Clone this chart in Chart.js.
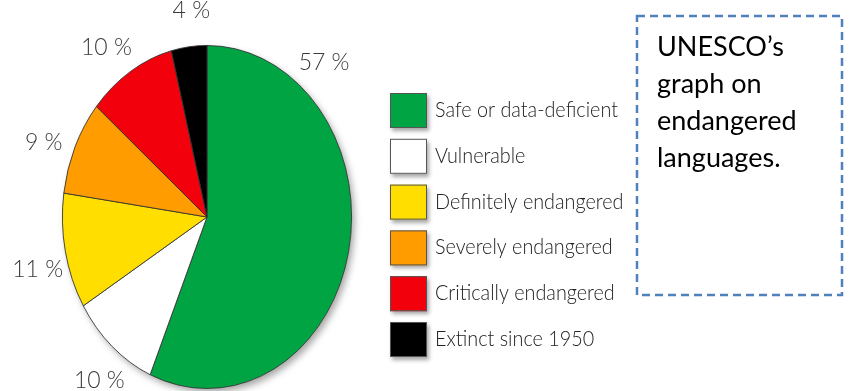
<!DOCTYPE html>
<html>
<head>
<meta charset="utf-8">
<script src="https://cdn.jsdelivr.net/npm/chart.js@4.4.0/dist/chart.umd.min.js"></script>
<style>
    html, body { margin: 0; padding: 0; background: #fff; }
    #wrap { position: relative; width: 850px; height: 391px; overflow: hidden; }
    #note {
        position: absolute; left: 657px; top: 27px;
        font-family: Lato, "Open Sans", sans-serif; font-size: 27px; line-height: 37px;
        color: #000;
    }
</style>
</head>
<body>
<div id="wrap">
    <canvas id="langChart" width="850" height="391"></canvas>
    <div id="note">UNESCO’s<br>graph on<br>endangered<br>languages.</div>
</div>
<script>
const categories = ['Safe or data-deficient', 'Vulnerable', 'Definitely endangered',
    'Severely endangered', 'Critically endangered', 'Extinct since 1950'];
const shares = [57, 10, 11, 9, 10, 4];
const shareLabels = ['57 %', '10 %', '11 %', '9 %', '10 %', '4 %'];
const sliceColors = ['#00a443', '#ffffff', '#ffde00', '#ff9c00', '#f2000c', '#000000'];

// pie is an ellipse in the original, so stretch it vertically
const stretchY = 172 / 145;

function pieGeom(chart) {
    const arc = chart.getDatasetMeta(0).data[0];
    return {cx: arc.x, cy: arc.y, r: arc.outerRadius};
}

const ellipsePie = {
    id: 'ellipsePie',
    beforeDatasetsDraw(chart) {
        const ctx = chart.ctx;
        const g = pieGeom(chart);
        // soft drop shadow behind the pie
        ctx.save();
        ctx.shadowColor = 'rgba(0,0,0,0.35)';
        ctx.shadowBlur = 7;
        ctx.shadowOffsetX = 3;
        ctx.shadowOffsetY = 4;
        ctx.beginPath();
        ctx.ellipse(g.cx, g.cy, g.r, g.r * stretchY, 0, 0, Math.PI * 2);
        ctx.fillStyle = '#fff';
        ctx.fill();
        ctx.restore();

        ctx.save();
        ctx.translate(g.cx, g.cy);
        ctx.scale(1, stretchY);
        ctx.translate(-g.cx, -g.cy);
    },
    afterDatasetsDraw(chart) {
        const ctx = chart.ctx;
        ctx.restore();
        const g = pieGeom(chart);
        const meta = chart.getDatasetMeta(0);
        const deg = Math.PI / 180;

        // percentage labels around the pie
        ctx.save();
        ctx.font = '300 23px Lato, "DejaVu Sans", sans-serif';
        ctx.fillStyle = '#3a3a3a';
        ctx.textAlign = 'center';
        ctx.textBaseline = 'middle';
        meta.data.forEach((arc, i) => {
            let a = (arc.startAngle + arc.endAngle) / 2 - 3 * deg;
            if (i === 0) a = -Math.PI / 2 + 42 * deg;   // big slice label sits up top
            if (i === meta.data.length - 1) a += 5 * deg;
            const k = 1.21;
            const x = g.cx + Math.cos(a) * g.r * k;
            const y = g.cy + Math.sin(a) * g.r * stretchY * k;
            ctx.fillText(shareLabels[i], x, y);
        });
        ctx.restore();
    },
    afterDraw(chart) {
        const ctx = chart.ctx;
        // legend
        ctx.save();
        categories.forEach((name, i) => {
            const x = 390, y = 93 + i * 45.8;
            ctx.save();
            ctx.shadowColor = 'rgba(0,0,0,0.35)';
            ctx.shadowBlur = 4;
            ctx.shadowOffsetX = 2;
            ctx.shadowOffsetY = 3;
            ctx.fillStyle = sliceColors[i];
            ctx.fillRect(x, y, 37, 35);
            ctx.restore();
            ctx.strokeStyle = '#555';
            ctx.lineWidth = 1;
            ctx.strokeRect(x + 0.5, y + 0.5, 36, 34);
            // narrow the text a bit, the original face is condensed
            ctx.save();
            ctx.translate(435, y + 17);
            ctx.scale(0.9, 1);
            ctx.font = '300 22px Lato, "DejaVu Sans", sans-serif';
            ctx.fillStyle = '#222';
            ctx.textBaseline = 'middle';
            ctx.fillText(name, 0, 0);
            ctx.restore();
        });
        // dashed note box
        ctx.setLineDash([8, 5]);
        ctx.strokeStyle = '#4f81bd';
        ctx.lineWidth = 2.5;
        ctx.strokeRect(637, 16, 205, 279);
        ctx.restore();
    }
};

const ctx = document.getElementById('langChart').getContext('2d');
new Chart(ctx, {
    type: 'pie',
    data: {
        labels: categories,
        datasets: [{
            data: shares,
            backgroundColor: sliceColors,
            borderColor: '#333',
            borderWidth: 0.8
        }]
    },
    options: {
        responsive: false,
        animation: false,
        layout: { padding: { left: 62, right: 498, top: 72, bottom: 29 } },
        plugins: {
            legend: { display: false },
            tooltip: { enabled: false }
        }
    },
    plugins: [ellipsePie]
});
</script>
</body>
</html>
